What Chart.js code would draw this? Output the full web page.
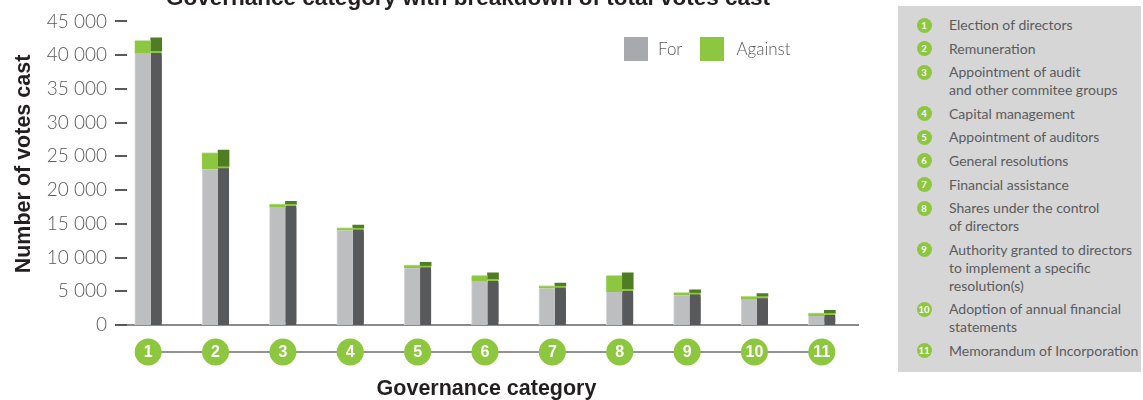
<!DOCTYPE html>
<html>
<head>
<meta charset="utf-8">
<script src="https://cdn.jsdelivr.net/npm/chart.js@4.4.1/dist/chart.umd.min.js"></script>
<style>
  body { margin: 0; background: #fff; width: 1143px; height: 400px; overflow: hidden; position: relative; font-family: Lato, "Open Sans", sans-serif; }
  #wrap { position: absolute; left: 0; top: 0; width: 895px; height: 400px; }
  .legend { position: absolute; top: 37px; left: 624px; display: flex; align-items: center; font-size: 17px; color: #58595b; font-weight: 300; line-height: 24px; }
  .sw { width: 24px; height: 24px; display: inline-block; }
  #panel { position: absolute; left: 898px; top: 6px; width: 243px; height: 366px; background: #d6d6d6; }
  #panel ol { list-style: none; margin: 0; padding: 10px 0 0 0; }
  #panel li { position: relative; padding-left: 51px; font-size: 14px; line-height: 18px; color: #5a5b5d; margin-bottom: 5.6px; white-space: nowrap; }
  #panel li .n { position: absolute; left: 18.5px; top: 1.5px; width: 15px; height: 15px; border-radius: 50%; background: #8dc63f; color: #fff; font-weight: bold; font-size: 9.5px; line-height: 15px; text-align: center; }
</style>
</head>
<body>
<div id="wrap"><canvas id="chart"></canvas></div>
<div class="legend">
  <span class="sw" style="background:#a7a9ac"></span><span style="margin:0 18px 0 10px">For</span>
  <span class="sw" style="background:#8dc63f"></span><span style="margin-left:12px">Against</span>
</div>
<div id="panel"><ol id="names"></ol></div>
<script>
// valores (votos por categoría)
const categories = ["1", "2", "3", "4", "5", "6", "7", "8", "9", "10", "11"];
const categoryNames = [
  "Election of directors",
  "Remuneration",
  "Appointment of audit\nand other commitee groups",
  "Capital management",
  "Appointment of auditors",
  "General resolutions",
  "Financial assistance",
  "Shares under the control\nof directors",
  "Authority granted to directors\nto implement a specific\nresolution(s)",
  "Adoption of annual financial\nstatements",
  "Memorandum of Incorporation",
];
const forVotes = [40200, 23100, 17500, 14000, 8400, 6400, 5400, 4900, 4400, 3850, 1350];
const againstVotes = [2000, 2450, 450, 450, 500, 950, 450, 2450, 450, 450, 450];
const yMax = 45000, yStep = 5000;

const GREEN = "#8dc63f", TEXT = "#58595b";
const LIFT = 2.5; // el lateral oscuro asoma un poco por arriba (efecto 3D)
const fmtK = (v) => String(v).replace(/\B(?=(\d{3})+(?!\d))/g, " ");

// lista lateral
const ol = document.getElementById("names");
categoryNames.forEach((name, i) => {
  const li = document.createElement("li");
  li.innerHTML = '<span class="n">' + categories[i] + "</span>" + name.split("\n").join("<br>");
  ol.appendChild(li);
});

const sideLift = {
  id: "sideLift",
  beforeDatasetDraw(chart, args) {
    const ds = chart.data.datasets[args.index];
    if (ds.stack === "side" && ds.label === "Against (side)") {
      chart.ctx.save();
      chart.ctx.translate(0, -LIFT);
    }
  },
  afterDatasetDraw(chart, args) {
    const ds = chart.data.datasets[args.index];
    if (ds.stack !== "side") return;
    const ctx = chart.ctx;
    if (ds.label === "Against (side)") { ctx.restore(); return; }
    // segunda pasada del "For" lateral, desplazada, sin dejar hueco abajo
    ctx.save();
    ctx.translate(0, -LIFT);
    args.meta.data.forEach((el) => el.draw(ctx));
    ctx.restore();
  },
};

// títulos, marcas del eje y círculos numerados
const decor = {
  id: "decor",
  afterDraw(chart) {
    const { ctx, chartArea: a, scales: { x, y } } = chart;
    ctx.save();
    ctx.strokeStyle = TEXT; ctx.lineWidth = 2;
    y.ticks.forEach((t) => {
      const py = Math.round(y.getPixelForValue(t.value));
      ctx.beginPath(); ctx.moveTo(a.left - 2, py); ctx.lineTo(a.left + 10, py); ctx.stroke();
    });

    const cy = 352, r = 13.5;
    const xs = categories.map((_, i) => x.getPixelForValue(i) - 2.5);
    ctx.strokeStyle = "#6d6e70"; ctx.lineWidth = 1.5;
    ctx.beginPath(); ctx.moveTo(xs[0], cy); ctx.lineTo(xs[xs.length - 1], cy); ctx.stroke();
    ctx.textAlign = "center"; ctx.textBaseline = "middle";
    ctx.font = 'bold 16px "Liberation Sans Narrow", "Liberation Sans", sans-serif';
    xs.forEach((px, i) => {
      ctx.fillStyle = GREEN;
      ctx.beginPath(); ctx.arc(px, cy, r, 0, Math.PI * 2); ctx.fill();
      ctx.fillStyle = "#fff";
      ctx.fillText(categories[i], px, cy + 1);
    });

    ctx.fillStyle = "#231f20";
    ctx.textBaseline = "alphabetic";
    ctx.font = 'bold 22.5px "Liberation Sans", sans-serif';
    ctx.fillText("Governance category with breakdown of total votes cast", 468, 5);
    ctx.font = 'bold 21.5px "Liberation Sans", sans-serif';
    ctx.fillText("Governance category", (a.left + a.right) / 2 - 1, 395);
    ctx.translate(30, 164);
    ctx.rotate(-Math.PI / 2);
    ctx.fillText("Number of votes cast", 0, 0);
    ctx.restore();
  },
};

new Chart(document.getElementById("chart"), {
  type: "bar",
  data: {
    labels: categories,
    datasets: [
      { label: "For", data: forVotes, stack: "front", backgroundColor: "#bcbec0", borderColor: "#dcdde0", borderWidth: { left: 1 }, barThickness: 16 },
      { label: "Against", data: againstVotes, stack: "front", backgroundColor: GREEN, borderColor: "#c9e3a4", borderWidth: { top: 1 }, barThickness: 16 },
      { label: "For (side)", data: forVotes, stack: "side", backgroundColor: "#58595b", borderColor: GREEN, borderWidth: { top: 2 }, barThickness: 11 },
      { label: "Against (side)", data: againstVotes, stack: "side", backgroundColor: "#4f7d24", borderWidth: 0, barThickness: 11 },
    ],
  },
  options: {
    responsive: true, maintainAspectRatio: false, animation: false,
    layout: { padding: { top: 18, right: 37, left: 0, bottom: 0 } },
    plugins: { legend: { display: false }, tooltip: { callbacks: { label: (c) => ` ${c.dataset.label}: ${fmtK(c.raw)}` } } },
    scales: {
      x: {
        stacked: true,
        grid: { display: false },
        border: { display: true, color: "#8a8a8a", width: 2 },
        ticks: { display: false },
        afterFit: (s) => { s.height = 75; },
      },
      y: {
        stacked: true, min: 0, max: yMax,
        grid: { display: false, drawTicks: false },
        border: { display: false },
        ticks: { stepSize: yStep, padding: 10, color: TEXT, font: { family: "Lato", weight: 300, size: 19 }, callback: (v) => fmtK(v) },
        afterFit: (s) => { s.width = 117; },
      },
    },
  },
  plugins: [sideLift, decor],
});
</script>
</body>
</html>
